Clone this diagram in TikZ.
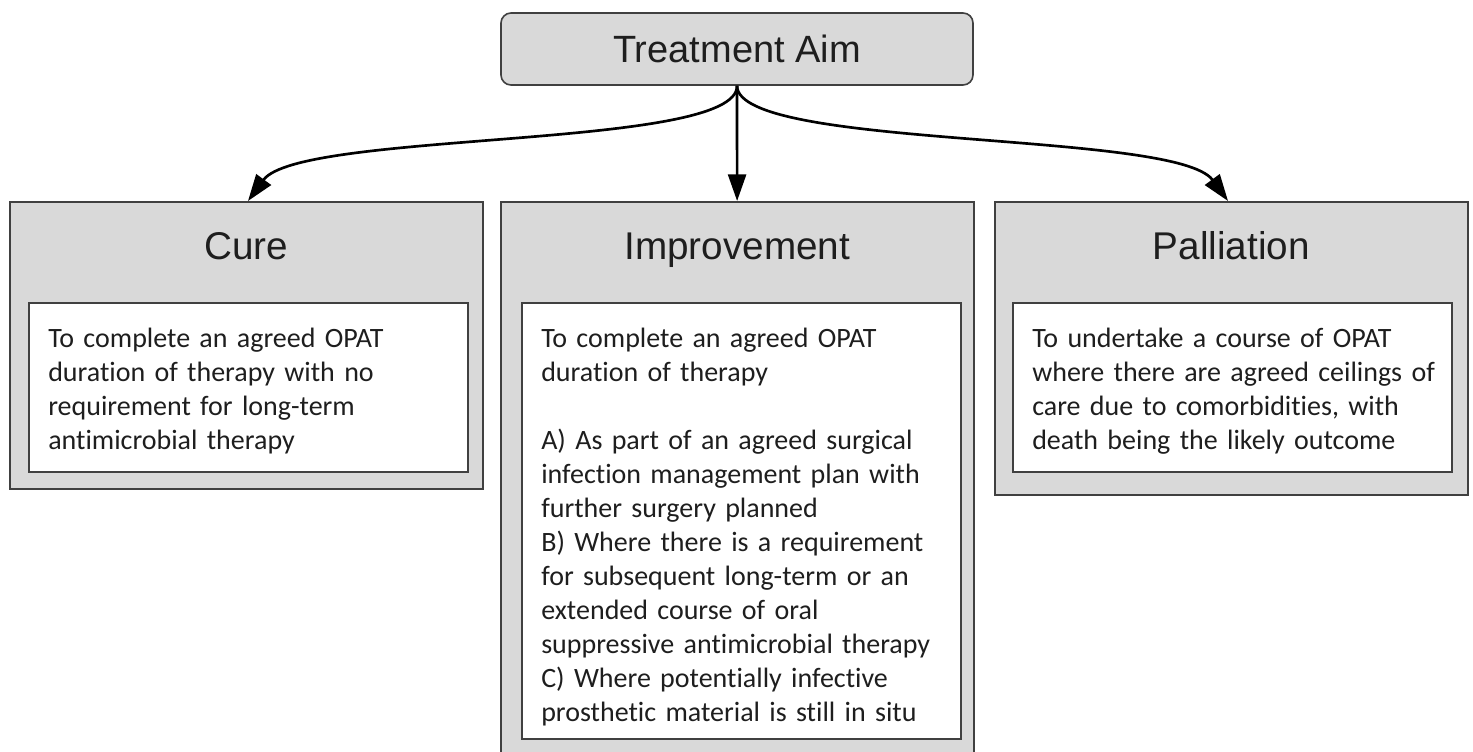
\documentclass[tikz,border=0pt]{standalone}
\usepackage{fontspec}
\setmainfont{Carlito}[Ligatures=NoCommon]
\newfontfamily\headfont{Liberation Sans}
\usetikzlibrary{arrows.meta,positioning}
\definecolor{boxgray}{HTML}{D9D9D9}
\definecolor{boxline}{HTML}{404040}
\definecolor{inktext}{HTML}{1E1E1E}

\begin{document}
\begin{tikzpicture}[x=0.75pt,y=-0.75pt,
  aimbox/.style={draw=boxline,fill=boxgray,rounded corners=7.5pt,line width=1.2pt,
    minimum width=354pt,minimum height=54pt,inner sep=0pt,text=inktext,
    font=\headfont\fontsize{28.5}{34}\selectfont},
  outerbox/.style={draw=boxline,fill=boxgray,line width=1.2pt,minimum width=354.75pt,
    inner sep=0pt,anchor=north west},
  innerbox/.style={draw=boxline,fill=white,line width=1.2pt,minimum width=329.25pt,
    inner sep=0pt,anchor=north west},
  headtext/.style={font=\headfont\fontsize{29}{35}\selectfont,inner sep=0pt,text=inktext},
  bodytext/.style={font=\fontsize{21}{25.5}\selectfont,text width=310pt,align=left,
    inner sep=0pt,text=inktext},
  link/.style={-{Triangle[length=20pt,width=13.5pt]},line width=2pt}]
\useasboundingbox (0,0) rectangle (1473,751);

% top box
\node[aimbox] (aim) at (737,49) {Treatment Aim};

% the three aims
\node[outerbox,minimum height=215.25pt] (cure) at (9,201) {};
\node[outerbox,minimum height=416.25pt] (impr) at (500,201) {};
\node[outerbox,minimum height=219.75pt] (pall) at (994,201) {};

\node[headtext] (cure_t) [below=43.5pt of cure.north,anchor=base] {Cure};
\node[headtext] (impr_t) [below=43.5pt of impr.north,anchor=base] {Improvement};
\node[headtext] (pall_t) [below=43.5pt of pall.north,anchor=base] {Palliation};

\node[innerbox,minimum height=126.75pt] (cure_in) at (28,302) {};
\node[innerbox,minimum height=327pt] (impr_in) at (521,302) {};
\node[innerbox,minimum height=126.75pt] (pall_in) at (1012,302) {};

\node[bodytext] (cure_txt) [below right=33.75pt and 15pt of cure_in.north west,anchor=base west]
  {To complete an agreed OPAT\\ duration of therapy with no\\ requirement for long-term\\
   antimicrobial therapy};
\node[bodytext] (impr_txt) [below right=33.75pt and 15pt of impr_in.north west,anchor=base west]
  {To complete an agreed OPAT\\ duration of therapy\\[25.5pt]
   A) As part of an agreed surgical\\ infection management plan with\\ further surgery planned\\
   B) Where there is a requirement\\ for subsequent long-term or an\\ extended course of oral\\
   suppressive antimicrobial therapy\\ C) Where potentially infective\\
   prosthetic material is still in situ};
\node[bodytext] (pall_txt) [below right=33.75pt and 15pt of pall_in.north west,anchor=base west]
  {To undertake a course of OPAT\\ where there are agreed ceilings of\\
   care due to comorbidities, with\\ death being the likely outcome};

% connectors
\coordinate (cure_tip) at (248,201);
\coordinate (pall_tip) at (1228,201);
\draw[link] (aim.south) .. controls (738,150) and (300,130) .. (cure_tip);
\draw[link] (aim) -- (impr);
\draw[link] (aim.south) .. controls (738,150) and (1176,130) .. (pall_tip);
\end{tikzpicture}
\end{document}
